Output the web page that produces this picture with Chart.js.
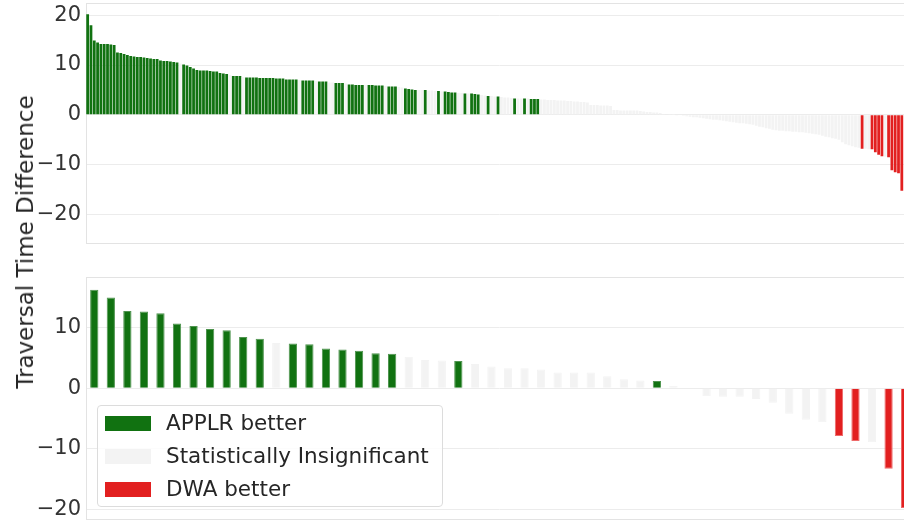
<!DOCTYPE html>
<html><head><meta charset="utf-8">
<script src="https://cdn.jsdelivr.net/npm/chart.js@4.4.1/dist/chart.umd.min.js"></script>
<style>
html,body{margin:0;padding:0;background:#fff;width:904px;height:525px;overflow:hidden;}
#wrap{position:relative;width:904px;height:525px;overflow:hidden;}
#top{position:absolute;left:0;top:0;}
#bot{position:absolute;left:0;top:270px;}
#ylab{position:absolute;left:25px;top:242px;transform:translate(-50%,-50%) rotate(-90deg);font:23px "DejaVu Sans";color:#262626;white-space:nowrap;}
#legend{position:absolute;left:97px;top:405px;width:344px;height:100px;border:1px solid #dcdcdc;border-radius:4px;background:rgba(255,255,255,0.85);font:21.5px "DejaVu Sans";color:#262626;}
.item{position:absolute;left:0;height:24px;}
.sw{position:absolute;left:7px;width:46px;height:15px;}
.lt{position:absolute;left:68px;white-space:nowrap;line-height:24px;}
</style></head>
<body><div id="wrap">
<canvas id="top" width="916" height="246"></canvas>
<canvas id="bot" width="916" height="252"></canvas>
<div id="ylab">Traversal Time Difference</div>
<div id="legend"></div>
</div>
<script>
// ---- data ----
const topCount = 250;
const topValues = [
 20.2, 18.0, 14.9, 14.5, 14.2, 14.2, 14.2, 14.1, 14.0, 12.5,
 12.4, 12.2, 12.0, 11.8, 11.7, 11.6, 11.6, 11.5, 11.4, 11.3,
 11.2, 11.2, 10.9, 10.8, 10.8, 10.7, 10.6, 10.5, 10.3, 10.1,
 9.9, 9.6, 9.3, 9.0, 8.9, 8.9, 8.9, 8.8, 8.7, 8.7,
 8.4, 8.3, 8.2, 8.0, 7.8, 7.8, 7.8, 7.6, 7.5, 7.5,
 7.5, 7.5, 7.4, 7.4, 7.4, 7.4, 7.4, 7.3, 7.3, 7.3,
 7.1, 7.1, 7.1, 7.1, 7.0, 6.9, 6.9, 6.9, 6.9, 6.8,
 6.7, 6.7, 6.7, 6.5, 6.5, 6.4, 6.4, 6.4, 6.3, 6.1,
 6.1, 6.0, 6.0, 6.0, 6.0, 6.0, 6.0, 5.9, 5.9, 5.9,
 5.8, 5.7, 5.7, 5.7, 5.6, 5.5, 5.3, 5.2, 5.1, 5.0,
 5.0, 5.0, 5.0, 4.9, 4.9, 4.8, 4.8, 4.7, 4.7, 4.6,
 4.5, 4.5, 4.4, 4.4, 4.3, 4.3, 4.3, 4.2, 4.1, 4.0,
 3.9, 3.8, 3.8, 3.7, 3.7, 3.6, 3.5, 3.5, 3.4, 3.3,
 3.3, 3.3, 3.3, 3.3, 3.2, 3.2, 3.2, 3.1, 3.1, 3.0,
 3.0, 3.0, 2.9, 2.9, 2.9, 2.8, 2.8, 2.7, 2.7, 2.6,
 2.6, 2.5, 2.0, 2.0, 2.0, 1.9, 1.9, 1.9, 1.8, 1.0,
 1.0, 0.9, 0.9, 0.9, 0.9, 0.9, 0.9, 0.8, 0.7, 0.6,
 0.6, 0.5, 0.5, 0.4, 0.2, 0.1, 0.05, 0.02, -0.05, -0.1,
 -0.2, -0.3, -0.4, -0.5, -0.5, -0.6, -0.7, -0.8, -0.9, -1.0,
 -1.0, -1.1, -1.2, -1.3, -1.4, -1.5, -1.6, -1.7, -1.7, -1.8,
 -1.9, -2.0, -2.2, -2.4, -2.5, -2.7, -2.8, -3.0, -3.1, -3.2,
 -3.2, -3.3, -3.3, -3.4, -3.4, -3.5, -3.5, -3.6, -3.7, -3.8,
 -3.9, -4.0, -4.2, -4.4, -4.5, -4.7, -4.8, -5.0, -5.5, -5.9,
 -6.1, -6.3, -6.5, -6.6, -6.8, -6.8, -6.9, -6.9, -7.5, -8.0,
 -8.3, -8.4, -8.5, -11.1, -11.5, -11.7, -15.2
];
// G = APPLR better, N = statistically insignificant, R = DWA better
const topGroups = (
 'GGGGGGGGGG' + 'GGGGGGGGGG' + 'GGGGGGGGNG' + 'GGGGGGGGGG' +
 'GGGNGGGNGG' + 'GGGGGGGGGG' + 'GGGGNGGGGN' + 'GGGNNGGGNG' +
 'GGGGNGGGGG' + 'NGGGNNGGGG' + 'NNGNNNGNGG' + 'GGNNGNGGGN' +
 'NGNNGNNNNG' + 'NNGNGGGNNN' + 'NNNNNNNNNN' + 'NNNNNNNNNN' +
 'NNNNNNNNNN' + 'NNNNNNNNNN' + 'NNNNNNNNNN' + 'NNNNNNNNNN' +
 'NNNNNNNNNN' + 'NNNNNNNNNN' + 'NNNNNNNNNN' + 'NNNNRNNRRR' +
 'RNRRRRR'
).split('');
const topTicks = [20, 10, 0, -10, -20];

const bottomCount = 50;
const bottomValues = [
 16.3, 15.0, 12.8, 12.7, 12.4, 10.7, 10.3, 9.8, 9.6, 8.5,
 8.2, 7.5, 7.4, 7.3, 6.6, 6.4, 6.2, 5.8, 5.7, 5.2,
 4.7, 4.6, 4.5, 4.0, 3.6, 3.3, 3.3, 3.1, 2.6, 2.6,
 2.6, 2.0, 1.5, 1.3, 1.2, 0.4, 0.15, -1.3, -1.4, -1.4,
 -1.75, -2.4, -4.2, -5.2, -5.6, -7.9, -8.7, -8.9, -13.3, -19.8
];
const bottomGroups = (
 'GGGGGGGGGG' + 'GNGGGGGGGN' + 'NNGNNNNNNN' + 'NNNNGNNNNN' + 'NNNNNRRNRR'
).split('');
const bottomTicks = [10, 0, -10, -20];

const legendLabels = ['APPLR better', 'Statistically Insignificant', 'DWA better'];
const legendGroups = ['G', 'N', 'R'];

// ---- styles ----
const fill = { G: '#117211', N: '#f3f3f3', R: '#e22020' };
const edge = { G: '#4f944f', N: '#f3f3f3', R: '#ee6a6a' };

const topCategories = Array.from({ length: topCount }, (_, i) => String(i + 1));
const bottomCategories = Array.from({ length: bottomCount }, (_, i) => String(i + 1));

const fmt = v => (v < 0 ? '\u2212' + Math.abs(v) : String(v));

const framePlugin = {
  id: 'frame',
  beforeDatasetsDraw(chart) {
    const a = chart.chartArea, ctx = chart.ctx;
    ctx.save();
    ctx.strokeStyle = '#e3e3e3';
    ctx.lineWidth = 1;
    ctx.strokeRect(Math.round(a.left) + 0.5, Math.round(a.top) + 0.5,
                   Math.round(a.right - a.left), Math.round(a.bottom - a.top));
    ctx.restore();
  }
};

function makeChart(id, cats, vals, groups, ticks, ymin, ymax, pad, barPct, bw) {
  return new Chart(document.getElementById(id), {
    type: 'bar',
    data: {
      labels: cats,
      datasets: [{
        data: vals,
        backgroundColor: groups.map(g => fill[g]),
        borderColor: groups.map(g => edge[g]),
        borderWidth: bw,
        barPercentage: barPct,
        categoryPercentage: 1
      }]
    },
    options: {
      responsive: false,
      animation: false,
      devicePixelRatio: 1,
      layout: { padding: pad },
      plugins: { legend: { display: false }, tooltip: { enabled: false } },
      scales: {
        x: { display: false, offset: true, grid: { display: false } },
        y: {
          min: ymin, max: ymax,
          afterFit(s) { s.width = 86; s.paddingTop = 0; s.paddingBottom = 0; },
          afterBuildTicks(s) { s.ticks = ticks.map(v => ({ value: v })); },
          grid: { color: '#ececec', drawTicks: false, lineWidth: 1 },
          border: { display: false },
          ticks: { padding: 5, color: '#333', font: { family: 'DejaVu Sans', size: 21 }, callback: v => fmt(v) }
        }
      }
    },
    plugins: [framePlugin]
  });
}

makeChart('top', topCategories, topValues, topGroups, topTicks, -25.7, 22.5,
  { top: 2.7, bottom: 3, left: 0, right: 2.6 }, 0.84, 0);
makeChart('bot', bottomCategories, bottomValues, bottomGroups, bottomTicks, -21.6, 18.35,
  { top: 7.3, bottom: 3, left: 0, right: 2.6 }, 0.5, 1);

// ---- legend ----
const lg = document.getElementById('legend');
legendLabels.forEach((txt, i) => {
  const it = document.createElement('div');
  it.className = 'item';
  it.style.top = (5 + i * 33) + 'px';
  const sw = document.createElement('div');
  sw.className = 'sw';
  sw.style.top = '4.5px';
  sw.style.background = fill[legendGroups[i]];
  const lt = document.createElement('div');
  lt.className = 'lt';
  lt.textContent = txt;
  it.appendChild(sw); it.appendChild(lt);
  lg.appendChild(it);
});
</script>
</body></html>
